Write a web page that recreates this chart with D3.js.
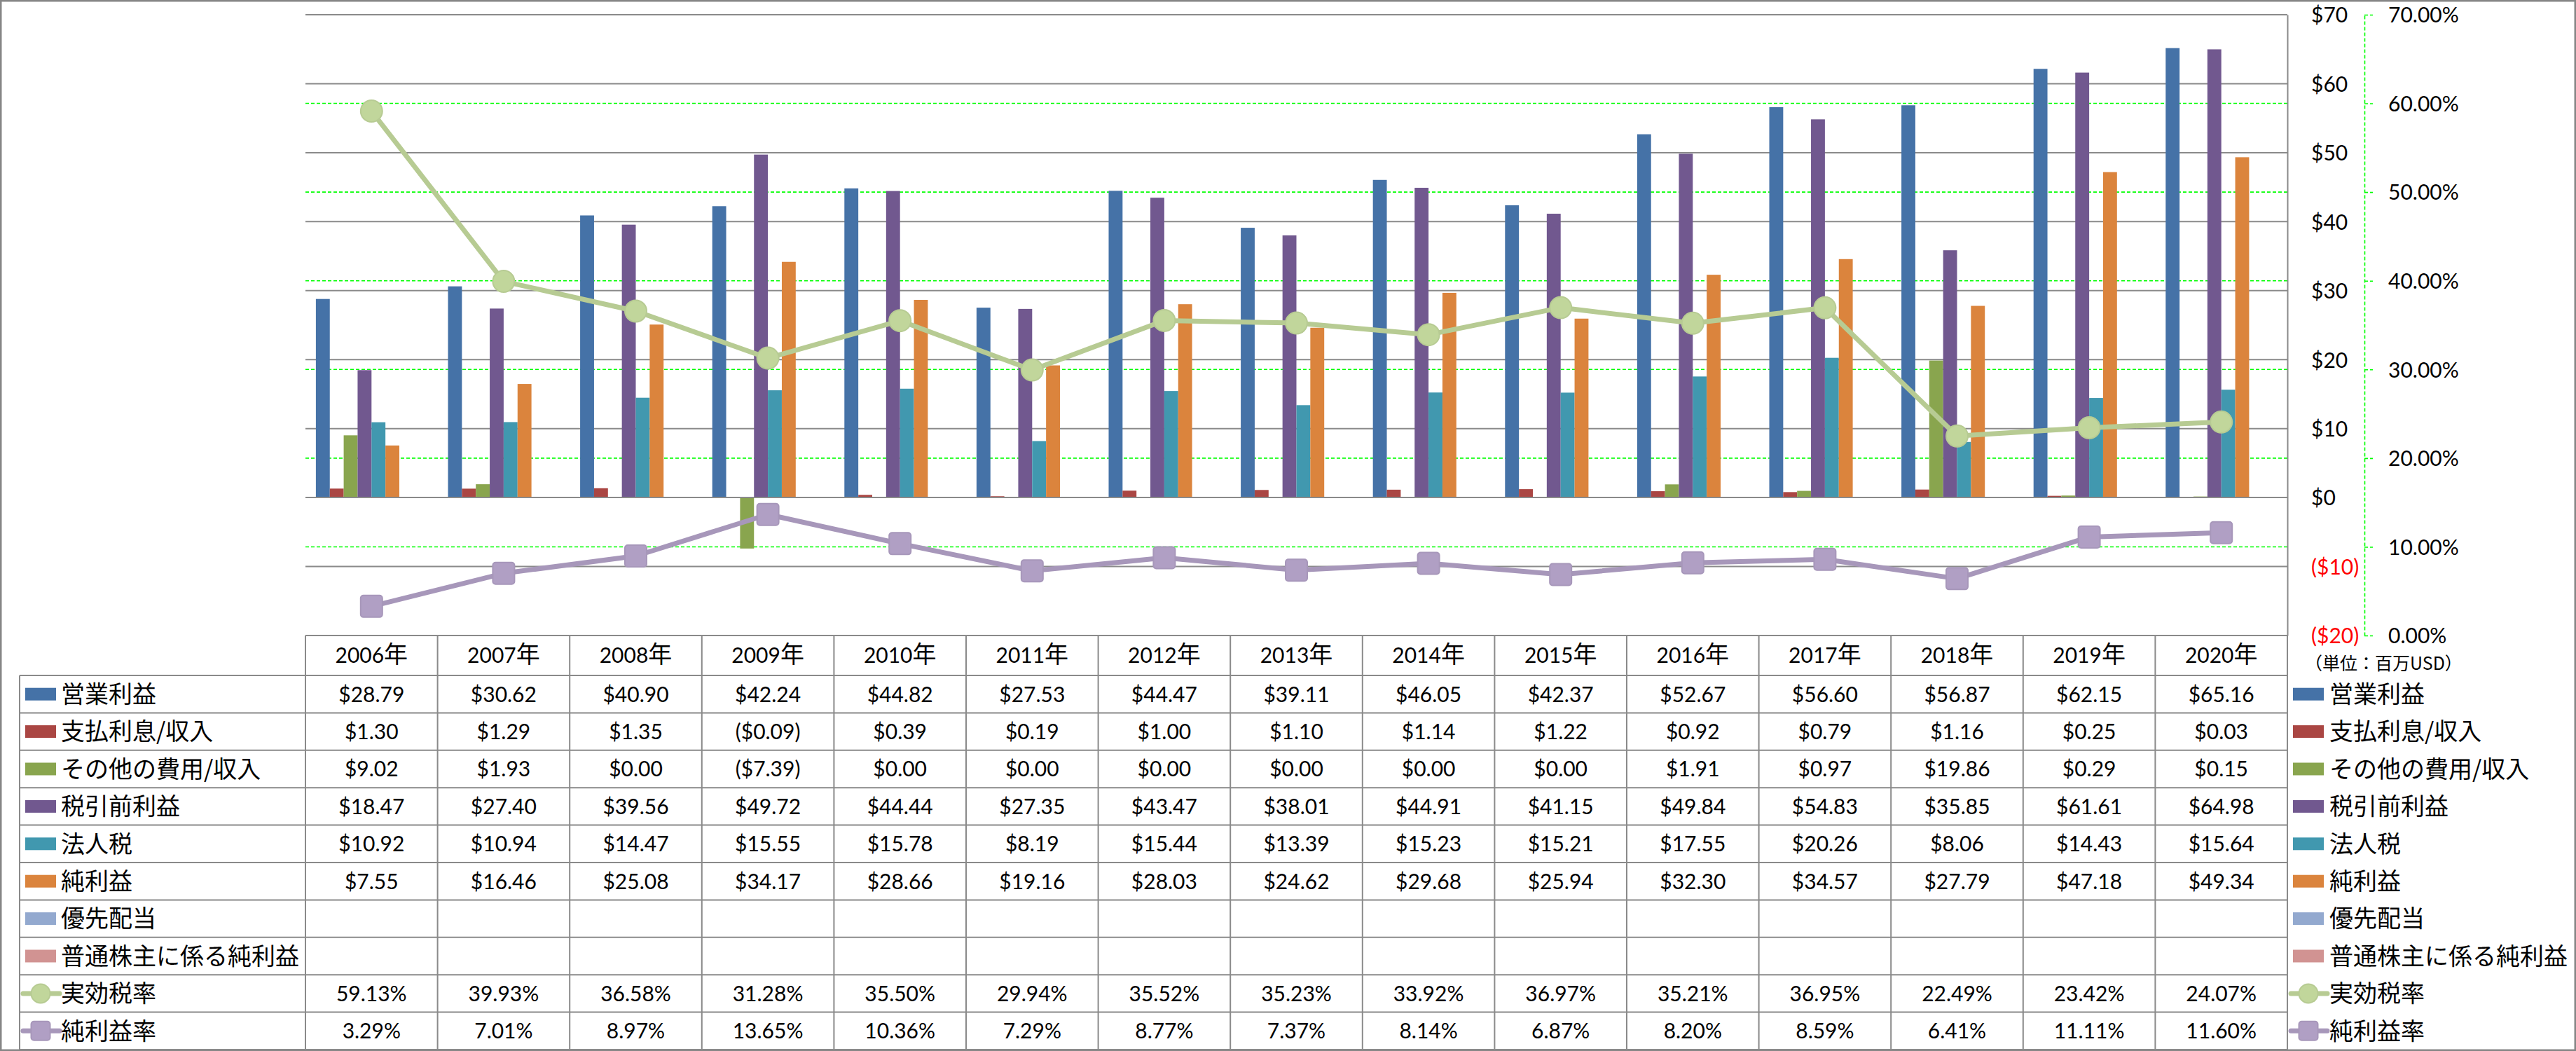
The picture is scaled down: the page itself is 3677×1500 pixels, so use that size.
<!DOCTYPE html>
<html>
<head>
<meta charset="utf-8">
<script src="https://cdn.jsdelivr.net/npm/d3@7"></script>
<style>
  body { margin: 0; background: #fff; }
  svg { display: block; }
  .num { font-family: Lato, "Noto Sans CJK JP", sans-serif; font-size: 30px; }
  .jp { font-family: "Noto Sans CJK JP", sans-serif; font-size: 34px; }
</style>
</head>
<body>
<svg id="chart" width="3677" height="1500"></svg>
<script>
// years on the category axis
var years = ["2006", "2007", "2008", "2009", "2010", "2011", "2012", "2013", "2014", "2015", "2016", "2017", "2018", "2019", "2020"];

// series values (million USD)
var operatingIncome = [28.79, 30.62, 40.90, 42.24, 44.82, 27.53, 44.47, 39.11, 46.05, 42.37, 52.67, 56.60, 56.87, 62.15, 65.16];
var interestExpense = [1.30, 1.29, 1.35, -0.09, 0.39, 0.19, 1.00, 1.10, 1.14, 1.22, 0.92, 0.79, 1.16, 0.25, 0.03];
var otherExpense = [9.02, 1.93, 0.00, -7.39, 0.00, 0.00, 0.00, 0.00, 0.00, 0.00, 1.91, 0.97, 19.86, 0.29, 0.15];
var pretaxIncome = [18.47, 27.40, 39.56, 49.72, 44.44, 27.35, 43.47, 38.01, 44.91, 41.15, 49.84, 54.83, 35.85, 61.61, 64.98];
var incomeTax = [10.92, 10.94, 14.47, 15.55, 15.78, 8.19, 15.44, 13.39, 15.23, 15.21, 17.55, 20.26, 8.06, 14.43, 15.64];
var netIncome = [7.55, 16.46, 25.08, 34.17, 28.66, 19.16, 28.03, 24.62, 29.68, 25.94, 32.30, 34.57, 27.79, 47.18, 49.34];
var preferredDividend = [];
var commonNetIncome = [];

// ratios (%)
var effectiveTaxRate = [59.13, 39.93, 36.58, 31.28, 35.50, 29.94, 35.52, 35.23, 33.92, 36.97, 35.21, 36.95, 22.49, 23.42, 24.07];
var netMargin = [3.29, 7.01, 8.97, 13.65, 10.36, 7.29, 8.77, 7.37, 8.14, 6.87, 8.20, 8.59, 6.41, 11.11, 11.60];

// axis ticks
var dollarTicks = [-20, -10, 0, 10, 20, 30, 40, 50, 60, 70];
var percentTicks = [0, 10, 20, 30, 40, 50, 60, 70];
var unitLabel = "（単位：百万USD）";

var barSeries = [
  { name: "営業利益", color: "#4572A7", values: operatingIncome },
  { name: "支払利息/収入", color: "#AA4643", values: interestExpense },
  { name: "その他の費用/収入", color: "#89A54E", values: otherExpense },
  { name: "税引前利益", color: "#71588F", values: pretaxIncome },
  { name: "法人税", color: "#4198AF", values: incomeTax },
  { name: "純利益", color: "#DB843D", values: netIncome },
  { name: "優先配当", color: "#93A9CF", values: preferredDividend },
  { name: "普通株主に係る純利益", color: "#D19392", values: commonNetIncome }
];
var lineSeries = [
  { name: "実効税率", color: "#B7CB93", marker: "circle", values: effectiveTaxRate },
  { name: "純利益率", color: "#A797BA", marker: "square", values: netMargin }
];

var width = 3677, height = 1500;
var plotLeft = 436, plotRight = 3265, plotTop = 21, plotBottom = 907;
var tableLeft = 28, headerTop = 907, rowTop = 964, rowHeight = 53.4;
var gridColor = "#8a8a8a";

function fmtDollar(v) {
  return v < 0 ? "($" + Math.abs(v).toFixed(2) + ")" : "$" + v.toFixed(2);
}
function fmtAxis(v) {
  return v < 0 ? "($" + Math.abs(v) + ")" : "$" + v;
}

var svg = d3.select("#chart");

// outer frame
svg.append("rect")
    .attr("x", 1.25).attr("y", 1.25)
    .attr("width", width - 2.5).attr("height", height - 2.5)
    .attr("fill", "#fff")
    .attr("stroke", "#868686")
    .attr("stroke-width", 2.5);

var x = d3.scaleBand().domain(years).range([plotLeft, plotRight]);
var xInner = d3.scaleBand()
    .domain(barSeries.map(function(s) { return s.name; }))
    .range([0, x.bandwidth()])
    .paddingOuter(0.75);
var y = d3.scaleLinear().domain([-20, 70]).range([plotBottom, plotTop]);
var yPct = d3.scaleLinear().domain([0, 70]).range([plotBottom, plotTop]);

// green dashed gridlines for the percent axis
svg.append("g")
  .selectAll("line")
    .data(percentTicks)
  .enter().append("line")
    .attr("x1", plotLeft).attr("x2", plotRight)
    .attr("y1", function(d) { return yPct(d); })
    .attr("y2", function(d) { return yPct(d); })
    .attr("stroke", "#00FF00")
    .attr("stroke-width", 1.6)
    .attr("stroke-dasharray", "5,3");

// gray gridlines for the dollar axis
svg.append("g")
  .selectAll("line")
    .data(dollarTicks)
  .enter().append("line")
    .attr("x1", plotLeft).attr("x2", plotRight)
    .attr("y1", function(d) { return y(d); })
    .attr("y2", function(d) { return y(d); })
    .attr("stroke", gridColor)
    .attr("stroke-width", 2);

// bars
barSeries.forEach(function(s) {
  var pts = s.values.map(function(v, i) { return { year: years[i], v: v }; });
  svg.append("g")
    .selectAll("rect")
      .data(pts)
    .enter().append("rect")
      .attr("x", function(d) { return x(d.year) + xInner(s.name); })
      .attr("width", xInner.bandwidth())
      .attr("y", function(d) { return y(Math.max(0, d.v)); })
      .attr("height", function(d) { return Math.abs(y(d.v) - y(0)); })
      .attr("fill", s.color);
});

// zero line on top of bars
svg.append("line")
    .attr("x1", plotLeft).attr("x2", plotRight)
    .attr("y1", y(0)).attr("y2", y(0))
    .attr("stroke", gridColor).attr("stroke-width", 2);

function drawMarker(g, type, cx, cy, size, color) {
  if (type == "circle") {
    g.append("circle")
        .attr("cx", cx).attr("cy", cy).attr("r", size / 2)
        .attr("fill", d3.color(color).brighter(0.15))
        .attr("stroke", color).attr("stroke-width", 2);
  } else {
    g.append("rect")
        .attr("x", cx - size / 2).attr("y", cy - size / 2)
        .attr("width", size).attr("height", size)
        .attr("rx", 4)
        .attr("fill", d3.color(color).brighter(0.15))
        .attr("stroke", color).attr("stroke-width", 2);
  }
}

// ratio lines
lineSeries.forEach(function(s) {
  var line = d3.line()
      .x(function(d, i) { return x(years[i]) + x.bandwidth() / 2; })
      .y(function(d) { return yPct(d); });
  var g = svg.append("g");
  g.append("path")
      .datum(s.values)
      .attr("d", line)
      .attr("fill", "none")
      .attr("stroke", s.color)
      .attr("stroke-width", 7)
      .attr("stroke-linejoin", "round");
  s.values.forEach(function(v, i) {
    drawMarker(g, s.marker, x(years[i]) + x.bandwidth() / 2, yPct(v), 31, s.color);
  });
});

// dollar axis on the right
var yAxis = d3.axisRight(y)
    .tickValues(dollarTicks)
    .tickSize(0)
    .tickPadding(34)
    .tickFormat(fmtAxis);
var gy = svg.append("g")
    .attr("transform", "translate(" + plotRight + ",0)")
    .call(yAxis);
gy.select(".domain").attr("stroke", gridColor).attr("stroke-width", 2);
gy.selectAll("text")
    .attr("class", "num")
    .attr("dy", "0.36em")
    .attr("fill", function(d) { return d < 0 ? "#FF0000" : "#000"; });

// percent axis
var pAxis = d3.axisRight(yPct)
    .tickValues(percentTicks)
    .tickSizeInner(12)
    .tickSizeOuter(0)
    .tickPadding(22)
    .tickFormat(function(d) { return d.toFixed(2) + "%"; });
var gp = svg.append("g")
    .attr("transform", "translate(3375,0)")
    .call(pAxis);
gp.selectAll(".domain, .tick line")
    .attr("stroke", "#00FF00")
    .attr("stroke-width", 1.6)
    .attr("stroke-dasharray", "5,3");
gp.selectAll("text")
    .attr("class", "num")
    .attr("dy", "0.36em")
    .attr("fill", "#000");

// unit note
svg.append("text")
    .attr("class", "jp")
    .attr("x", 3290).attr("y", 947)
    .attr("dy", "0.36em")
    .style("font-size", "25px")
    .text(unitLabel);

// data table
var rows = barSeries.map(function(s) {
  return { name: s.name, color: s.color, type: "bar", cells: s.values.map(fmtDollar) };
}).concat(lineSeries.map(function(s) {
  return { name: s.name, color: s.color, type: s.marker, cells: s.values.map(function(v) { return v.toFixed(2) + "%"; }) };
}));
var tableBottom = rowTop + rows.length * rowHeight;
var table = svg.append("g");

// horizontal rules
table.append("line")
    .attr("x1", plotLeft).attr("x2", plotRight)
    .attr("y1", headerTop).attr("y2", headerTop)
    .attr("stroke", gridColor).attr("stroke-width", 2);
table.selectAll("line.row")
    .data(d3.range(rows.length + 1))
  .enter().append("line")
    .attr("class", "row")
    .attr("x1", tableLeft).attr("x2", plotRight)
    .attr("y1", function(d) { return rowTop + d * rowHeight; })
    .attr("y2", function(d) { return rowTop + d * rowHeight; })
    .attr("stroke", gridColor).attr("stroke-width", 2);

// vertical rules
table.append("line")
    .attr("x1", tableLeft).attr("x2", tableLeft)
    .attr("y1", rowTop).attr("y2", tableBottom)
    .attr("stroke", gridColor).attr("stroke-width", 2);
table.selectAll("line.col")
    .data(years.concat(["end"]))
  .enter().append("line")
    .attr("class", "col")
    .attr("x1", function(d) { return d == "end" ? plotRight : x(d); })
    .attr("x2", function(d) { return d == "end" ? plotRight : x(d); })
    .attr("y1", headerTop).attr("y2", tableBottom)
    .attr("stroke", gridColor).attr("stroke-width", 2);

// header years
var hdr = table.selectAll("text.year")
    .data(years)
  .enter().append("text")
    .attr("class", "num year")
    .attr("x", function(d) { return x(d) + x.bandwidth() / 2; })
    .attr("y", (headerTop + rowTop) / 2)
    .attr("dy", "0.36em")
    .attr("text-anchor", "middle");
hdr.append("tspan").text(function(d) { return d; });
hdr.append("tspan").attr("class", "jp").text("年");

function legendKey(g, r, x0, cy) {
  if (r.type == "bar") {
    g.append("rect")
        .attr("x", x0 + 3).attr("y", cy - 9)
        .attr("width", 44).attr("height", 18)
        .attr("fill", r.color);
  } else {
    g.append("line")
        .attr("x1", x0).attr("x2", x0 + 52)
        .attr("y1", cy).attr("y2", cy)
        .attr("stroke", r.color).attr("stroke-width", 7)
        .attr("stroke-linecap", "round");
    drawMarker(g, r.type, x0 + 25, cy, 27, r.color);
  }
}

rows.forEach(function(r, i) {
  var cy = rowTop + (i + 0.5) * rowHeight;
  var g = table.append("g");

  // left key and label
  legendKey(g, r, 33, cy);
  g.append("text")
      .attr("class", "jp")
      .attr("x", 87).attr("y", cy)
      .attr("dy", "0.36em")
      .text(r.name);

  // values
  g.selectAll("text.val")
      .data(r.cells)
    .enter().append("text")
      .attr("class", "num val")
      .attr("x", function(d, j) { return x(years[j]) + x.bandwidth() / 2; })
      .attr("y", cy)
      .attr("dy", "0.36em")
      .attr("text-anchor", "middle")
      .text(function(d) { return d; });

  // right legend
  legendKey(g, r, 3270, cy);
  g.append("text")
      .attr("class", "jp")
      .attr("x", 3325).attr("y", cy)
      .attr("dy", "0.36em")
      .text(r.name);
});
</script>
</body>
</html>
